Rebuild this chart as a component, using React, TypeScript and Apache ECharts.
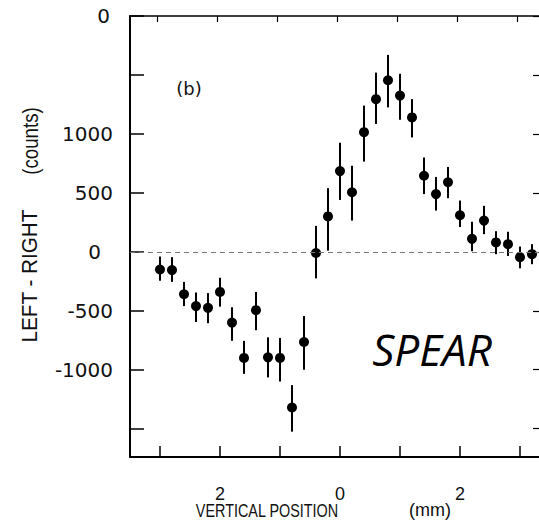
import React, { useEffect, useRef } from "react";
import * as echarts from "echarts";

// Vertical position (mm)
const positions = [
  -3.0, -2.8, -2.6, -2.4, -2.2, -2.0, -1.8, -1.6, -1.4, -1.2, -1.0, -0.8, -0.6, -0.4, -0.2, 0.0,
  0.2, 0.4, 0.6, 0.8, 1.0, 1.2, 1.4, 1.6, 1.8, 2.0, 2.2, 2.4, 2.6, 2.8, 3.0, 3.2,
];
// LEFT - RIGHT (counts)
const counts = [
  -150, -155, -360, -460, -475, -340, -600, -900, -495, -895, -900, -1320, -765, -10, 300, 685,
  505, 1015, 1295, 1455, 1325, 1140, 645, 490, 590, 310, 110, 265, 80, 65, -45, -20,
];
const errUpper = [
  -40, -45, -255, -345, -350, -220, -470, -755, -340, -725, -730, -1130, -545, 220, 540, 925,
  730, 1240, 1520, 1670, 1510, 1295, 800, 635, 720, 435, 255, 390, 175, 170, 45, 65,
];
const errLower = [
  -245, -255, -460, -595, -605, -465, -755, -1035, -665, -1065, -1100, -1525, -1000, -225, 10, 440,
  265, 765, 1085, 1225, 1120, 970, 490, 350, 455, 210, 5, 150, -20, -35, -140, -105,
];

const yTicks = [-1500, -1000, -500, 0, 500, 1000, 1500, 2000];
const yLabels = [-1000, -500, 0, 500, 1000, 2000];
const xTicks = [-3, -2, -1, 0, 1, 2, 3];
const xLabels = [-2, 0, 2];

export default function App() {
  const ref = useRef<HTMLDivElement>(null);
  useEffect(() => {
    if (!ref.current) return;
    const chart = echarts.init(ref.current, null, { renderer: "svg" });
    const points = positions.map((x, i) => [x, counts[i]]);
    const bars = positions.map((x, i) => [x, errLower[i], errUpper[i]]);
    const axisText = { color: "#111", fontFamily: "DejaVu Sans" };
    chart.setOption({
      animation: false,
      backgroundColor: "#fff",
      grid: { left: 130, right: 0, top: 16, bottom: 69 },
      xAxis: [
        {
          type: "value",
          position: "bottom",
          min: -3.5,
          max: 3.3167,
          axisLine: { show: true, onZero: false, lineStyle: { color: "#000", width: 2 } },
          axisTick: { show: true, inside: false, length: -11, customValues: xTicks, lineStyle: { color: "#000", width: 1.5 } },
          axisLabel: {
            show: true,
            customValues: xLabels,
            margin: 28,
            formatter: (v: number) => String(Math.abs(v)),
            color: "#111",
            fontFamily: "Liberation Sans",
            fontSize: 18,
          },
          splitLine: { show: false },
        },
        {
          type: "value",
          position: "top",
          min: -3.45,
          max: 3.367,
          axisLine: { show: true, onZero: false, lineStyle: { color: "#000", width: 1.5 } },
          axisTick: { show: true, inside: false, length: -6, customValues: xTicks, lineStyle: { color: "#000", width: 1.2 } },
          axisLabel: { show: false },
          splitLine: { show: false },
        },
      ],
      yAxis: [
        {
          type: "value",
          position: "left",
          min: -1740,
          max: 2000,
          axisLine: { show: true, onZero: false, lineStyle: { color: "#000", width: 2 } },
          axisTick: { show: true, inside: false, length: -14, customValues: yTicks, lineStyle: { color: "#000", width: 1.5 } },
          axisLabel: {
            show: true,
            customValues: yLabels,
            margin: 17,
            formatter: (v: number) => (v === 2000 ? "{top|0}" : v === 0 ? "{z|0}" : String(v)),
            rich: {
              z: { ...axisText, fontSize: 20, padding: [0, 12, 0, 0] },
              top: { ...axisText, fontSize: 20, padding: [0, 3, 0, 0] },
            },
            ...axisText,
            fontSize: 20,
          },
          splitLine: { show: false },
        },
        {
          type: "value",
          position: "right",
          min: -1740,
          max: 2000,
          axisLine: { show: false, onZero: false },
          axisTick: { show: true, inside: false, length: -6, customValues: yTicks, lineStyle: { color: "#000", width: 1.2 } },
          axisLabel: { show: false },
          splitLine: { show: false },
        },
      ],
      series: [
        {
          type: "custom",
          xAxisIndex: 0,
          yAxisIndex: 0,
          data: bars,
          encode: { x: 0, y: [1, 2] },
          renderItem: (params: any, api: any) => {
            const p1 = api.coord([api.value(0), api.value(1)]);
            const p2 = api.coord([api.value(0), api.value(2)]);
            return {
              type: "line",
              shape: { x1: p1[0], y1: p1[1], x2: p2[0], y2: p2[1] },
              style: { stroke: "#000", lineWidth: 2 },
            };
          },
          z: 2,
        },
        {
          type: "scatter",
          xAxisIndex: 0,
          yAxisIndex: 0,
          data: points,
          symbol: "circle",
          symbolSize: 10,
          itemStyle: { color: "#000", opacity: 1 },
          z: 3,
          markLine: {
            silent: true,
            symbol: "none",
            label: { show: false },
            lineStyle: { color: "#777", width: 1, type: [5, 4] },
            data: [{ yAxis: 0 }],
          },
        },
      ],
      graphic: [
        {
          type: "text",
          x: 189,
          y: 88,
          style: { text: "(b)", fill: "#111", font: "18px 'DejaVu Sans'", align: "center", verticalAlign: "middle" },
        },
        {
          type: "text",
          x: 432,
          y: 349,
          style: { text: "SPEAR", fill: "#000", font: "italic 44px 'Open Sans'", align: "center", verticalAlign: "middle" },
        },
        {
          type: "text",
          x: 30,
          y: 276,
          rotation: Math.PI / 2,
          scaleX: 0.94,
          style: { text: "LEFT - RIGHT", fill: "#111", font: "22px 'Liberation Sans'", align: "center", verticalAlign: "middle" },
        },
        {
          type: "text",
          x: 30,
          y: 141,
          rotation: Math.PI / 2,
          scaleX: 0.85,
          style: { text: "(counts)", fill: "#111", font: "22px 'Liberation Sans'", align: "center", verticalAlign: "middle" },
        },
        {
          type: "text",
          x: 267,
          y: 510,
          scaleX: 0.8,
          style: { text: "VERTICAL POSITION", fill: "#111", font: "18px 'Liberation Sans'", align: "center", verticalAlign: "middle" },
        },
        {
          type: "text",
          x: 430,
          y: 510,
          style: { text: "(mm)", fill: "#111", font: "18px 'Liberation Sans'", align: "center", verticalAlign: "middle" },
        },
      ],
    });
    return () => chart.dispose();
  }, []);
  return <div ref={ref} style={{ position: "fixed", left: 0, top: 0, width: 539, height: 526 }} />;
}
